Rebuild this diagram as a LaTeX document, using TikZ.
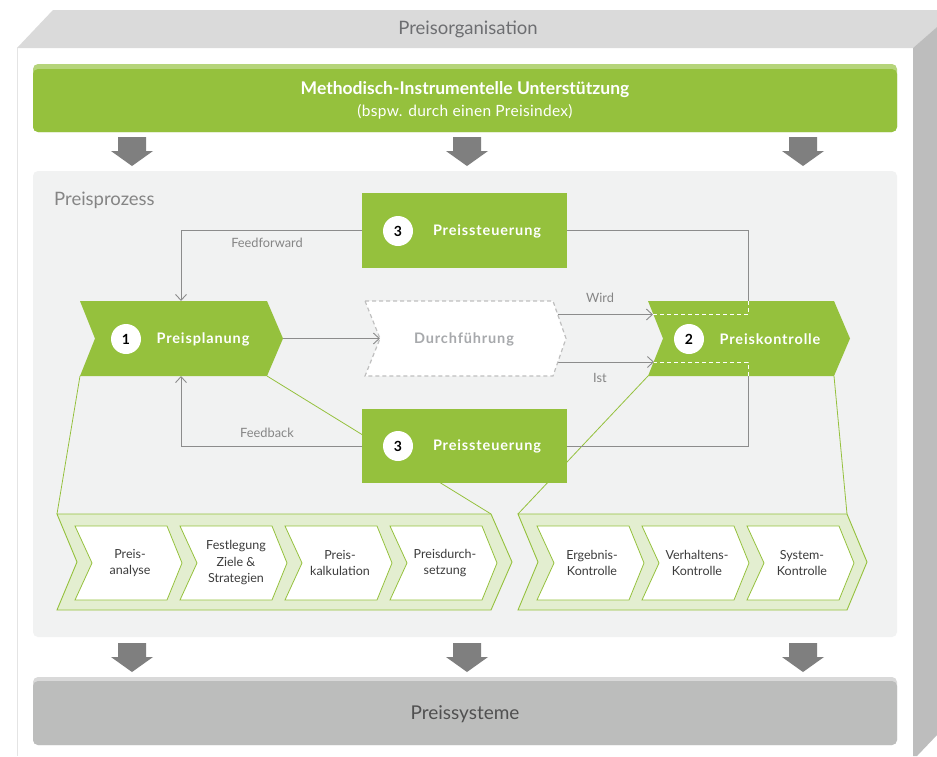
\documentclass[tikz,border=0pt]{standalone}
\usepackage{fontspec}
\setmainfont{Lato}
\usetikzlibrary{arrows.meta}
\definecolor{pgreen}{HTML}{95C13D}
\definecolor{plight}{HTML}{B5D47A}
\definecolor{pband}{HTML}{E3EED0}
\definecolor{ppanel}{HTML}{F1F2F2}
\definecolor{ptop}{HTML}{DADADA}
\definecolor{pside}{HTML}{BDBDBD}
\definecolor{pedge}{HTML}{E4E4E4}
\definecolor{parrow}{HTML}{7F7F7F}
\definecolor{pline}{HTML}{8C8C8C}
\definecolor{plabel}{HTML}{858585}
\definecolor{psys}{HTML}{BCBDBC}
\definecolor{psysl}{HTML}{D9D9D9}
\definecolor{pdash}{HTML}{BFBFBF}
\definecolor{pdurtext}{HTML}{A7A9AC}
\definecolor{ptext}{HTML}{3C3C3C}
\definecolor{ptitle}{HTML}{6D6E71}
\newcommand{\mychev}[6]{(#1,#3) -- (#2,#3) -- ({#2+#6},{(#3+#4)/2}) -- (#2,#4) -- (#1,#4) -- ({#1+#5},{(#3+#4)/2}) -- cycle}
\begin{document}
\begin{tikzpicture}[x=1pt,y=-1pt,
  conn/.style={draw=pline,line width=0.9pt},
  arr/.style={-{Straight Barb[length=6pt,width=11pt,line width=0.9pt]}},
  wdash/.style={draw=white,line width=0.9pt,dash pattern=on 4pt off 3pt},
  gline/.style={draw=pgreen,line width=0.8pt},
  lbl/.style={font=\fontsize{12.8}{14}\selectfont,text=plabel,inner sep=0},
  num/.style={circle,fill=white,minimum size=30pt,inner sep=0,font=\bfseries\fontsize{14}{16}\selectfont,text=black},
  head/.style={font=\bfseries\fontsize{14.5}{16}\selectfont\addfontfeature{LetterSpace=6},text=white,inner sep=0},
  geo/.style={inner sep=0,outer sep=0,draw=none},
  step box/.style={align=center,font=\fontsize{12.5}{16.5}\selectfont,text=ptext,inner sep=0},
  darr/.pic={\fill[parrow] (-14,0) -- (14,0) -- (14,14) -- (21,14) -- (0,29) -- (-21,14) -- (-14,14) -- cycle;}
]
\useasboundingbox (0,0) rectangle (937,756);
\fill[white] (0,0) rectangle (937,756);
% 3D frame
\fill[ptop] (53,10) -- (937,10) -- (937,27) -- (913,48) -- (17,48) -- cycle;
\fill[pside] (913,48) -- (937,27) -- (937,735) -- (917,756) -- (913,756) -- cycle;
\draw[draw=pedge,line width=1pt] (17.5,48) -- (17.5,756);
\node[font=\fontsize{18.5}{20}\selectfont,text=ptitle] (org) at (468,29) {Preisorganisation};
% top green bar
\fill[plight,rounded corners=5pt] (33,64) rectangle (897,132);
\fill[pgreen,rounded corners=5pt] (33,69) rectangle (897,132);
\node[geo,minimum width=864pt,minimum height=68pt] (mis) at (465,98) {};
\node[font=\bfseries\fontsize{17.5}{18}\selectfont,text=white] (mist) at (465,90) {Methodisch-Instrumentelle Unterstützung};
\node[font=\fontsize{15.5}{16}\selectfont\addfontfeature{LetterSpace=2},text=white] (miss) at (465,112) {(bspw. durch einen Preisindex)};
% arrows down
\pic at (132,137) {darr};
\pic at (467,137) {darr};
\pic at (803,137) {darr};
% panel
\fill[ppanel,rounded corners=5pt] (33,171) rectangle (897,637);
\node[anchor=west,font=\fontsize{18.5}{20}\selectfont,text=plabel,inner sep=0] (pp) at (54,200) {Preisprozess};
% bottom arrows
\pic at (132,643) {darr};
\pic at (467,643) {darr};
\pic at (803,643) {darr};
% Preissysteme
\fill[psysl,rounded corners=5pt] (33,677) rectangle (897,745);
\fill[psys,rounded corners=5pt] (33,681) rectangle (897,745);
\node[geo,minimum width=864pt,minimum height=68pt] (sys) at (465,711) {};
\node[font=\fontsize{19}{21}\selectfont,text=ptext!90] (syst) at (465,714) {Preissysteme};
% geometry nodes
\node[geo,minimum width=187pt,minimum height=75pt] (plan) at (173.5,338.5) {};
\node[geo,minimum width=188pt,minimum height=75pt] (dur) at (459,338.5) {};
\node[geo,minimum width=186pt,minimum height=75pt] (kon) at (741,338.5) {};
\node[geo,minimum width=434pt,minimum height=96pt] (lbr) at (274,562) {};
\node[geo,minimum width=329pt,minimum height=96pt] (rbr) at (682.5,562) {};
% green callout lines
\draw[gline] (plan.south west) -- (lbr.north west);
\draw[gline] (plan.south east) -- (lbr.north east);
\draw[gline] (kon.south west) -- (rbr.north west);
\draw[gline] (kon.south east) -- (rbr.north east);
% coordinates for connectors
\coordinate (plantip) at (283,338.5);
\coordinate (durnotch) at (380,338.5);
\coordinate (ffin) at (181,301);
\coordinate (fbin) at (181,376);
\coordinate (kt) at (748,301);
\coordinate (kb) at (748,376);
\coordinate (wirdA) at (558,314.5);
\coordinate (wirdB) at (653,314.5);
\coordinate (istA) at (558,362);
\coordinate (istB) at (654,362);
% Preissteuerung boxes
\node[geo,minimum width=205pt,minimum height=75pt,fill=pgreen] (st1) at (464.5,230.5) {};
\node[geo,minimum width=205pt,minimum height=74pt,fill=pgreen] (st2) at (464.5,446) {};
% gray connectors
\draw[conn] (st1.east) -| (kt);
\draw[conn] (st2.east) -| (kb);
\draw[conn,arr] (st1.west) -| (ffin);
\draw[conn,arr] (st2.west) -| (fbin);
\draw[conn,arr] (plantip) -- (durnotch);
\draw[conn,arr] (wirdA) -- (wirdB);
\draw[conn,arr] (istA) -- (istB);
\node[lbl] (lff) at (267,243) {Feedforward};
\node[lbl] (lfb) at (267,433) {Feedback};
\node[lbl] (lw) at (600,298) {Wird};
\node[lbl] (li) at (600,378) {Ist};
% chevrons
\fill[pgreen] \mychev{80}{267}{301}{376}{15}{16};
\filldraw[fill=white,draw=pdash,line width=1.2pt,dash pattern=on 4pt off 3pt] \mychev{365}{553}{301}{376}{15}{13};
\fill[pgreen] \mychev{648}{834}{301}{376}{15}{16};
\draw[wdash] (kt) -- (748,314.5) -- (653,314.5);
\draw[wdash] (kb) -- (748,362) -- (654,362);
% chevron texts
\node[num] (n1) at (126,339) {1};
\node[head] (t1) at (203,339) {Preisplanung};
\node[font=\bfseries\fontsize{14.5}{16}\selectfont\addfontfeature{LetterSpace=6},text=pdurtext,inner sep=0] (t0) at (464,339) {Durchführung};
\node[num] (n2) at (689,339) {2};
\node[head] (t2) at (770,339) {Preiskontrolle};
\node[num] (n3a) at (398,231) {3};
\node[head] (t3a) at (487,231) {Preissteuerung};
\node[num] (n3b) at (398,446) {3};
\node[head] (t3b) at (487,446) {Preissteuerung};
% brackets
\filldraw[fill=pband,draw=pgreen,line width=0.9pt] \mychev{57}{491}{514}{610}{20}{21};
\filldraw[fill=pband,draw=pgreen,line width=0.9pt] \mychev{518}{847}{514}{610}{20}{20};
\foreach \xo in {75,180,285,390,537,642,747}{
  \filldraw[fill=white,draw=pgreen,line width=0.8pt] \mychev{\xo}{\xo+92}{526}{600}{17}{15};
}
\node[step box] (s1) at (130,563) {Preis-\\analyse};
\node[step box] (s2) at (236,563) {Festlegung\\Ziele \&\\Strategien};
\node[step box] (s3) at (340,563) {Preis-\\kalkulation};
\node[step box] (s4) at (445,563) {Preisdurch-\\setzung};
\node[step box] (s5) at (592,563) {Ergebnis-\\Kontrolle};
\node[step box] (s6) at (697,563) {Verhaltens-\\Kontrolle};
\node[step box] (s7) at (802,563) {System-\\Kontrolle};
\end{tikzpicture}
\end{document}
